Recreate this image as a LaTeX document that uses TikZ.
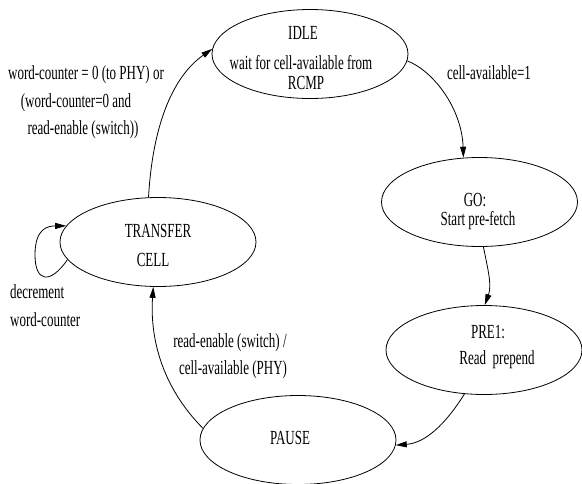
\documentclass[tikz,border=0pt]{standalone}
\usepackage{fontspec}
\setmainfont{Liberation Serif}[FakeStretch=0.65]
\usetikzlibrary{shapes.geometric,arrows.meta}
\tikzset{
  state/.style={draw,ellipse,line width=0.8pt,inner sep=0pt,minimum width=196pt,minimum height=89pt},
  txt/.style={inner sep=0pt,font=\fontsize{20}{22}\selectfont},
  conn/.style={line width=0.8pt,-{Triangle[length=11pt,width=6pt]}}
}
\begin{document}
\begin{tikzpicture}[x=1pt,y=-1pt]
\useasboundingbox (0,0) rectangle (582,483);
\node[state] (idle) at (310,54) {};
\node[state] (go) at (479.5,202) {};
\node[state] (pre) at (484,350) {};
\node[state] (pause) at (298,440) {};
\node[state] (tc) at (158,242) {};

\node[txt] (t1) at (303,33) {IDLE};
\node[txt] (t2) at (301,63) {wait for cell-available from};
\node[txt] (t3) at (306,83) {RCMP};
\node[txt] (t4) at (475,200) {GO:};
\node[txt] (t5) at (478,221) {Start pre-fetch};
\node[txt] (t6) at (488,332) {PRE1:};
\node[txt] (t7) at (497,360) {Read\ \ prepend};
\node[txt] (t8) at (290,438) {PAUSE};
\node[txt] (t9) at (158,231) {TRANSFER};
\node[txt] (t10) at (153,260) {CELL};

\node[txt] (l1) at (86,75) {word-counter = 0 (to PHY) or};
\node[txt] (l2) at (76,103) {(word-counter=0 and};
\node[txt] (l3) at (83,130) {read-enable (switch))};
\node[txt] (l4) at (489,73) {cell-available=1};
\node[txt,anchor=west] (l5) at (10,292) {decrement};
\node[txt,anchor=west] (l6) at (10,320) {word-counter};
\node[txt] (l7) at (230,343) {read-enable (switch) /};
\node[txt] (l8) at (233,370) {cell-available (PHY)};

\draw[conn] (tc.102) .. controls (153,120) and (175,75) .. (idle.177);
\draw[conn] (idle.-4) .. controls (435,72) and (462,110) .. (go.110);
\draw[conn] (go.-85) .. controls (488,270) and (492,285) .. (pre.89);
\draw[conn] (pre.-114) .. controls (445,425) and (425,443) .. (pause.-3);
\draw[conn] (pause.173) .. controls (160,385) and (150,335) .. (tc.-96);
\draw[conn] (tc.191) .. controls (50,285) and (35,282) .. (35,255) .. controls (35,228) and (48,226) .. (tc.170);
\end{tikzpicture}
\end{document}
